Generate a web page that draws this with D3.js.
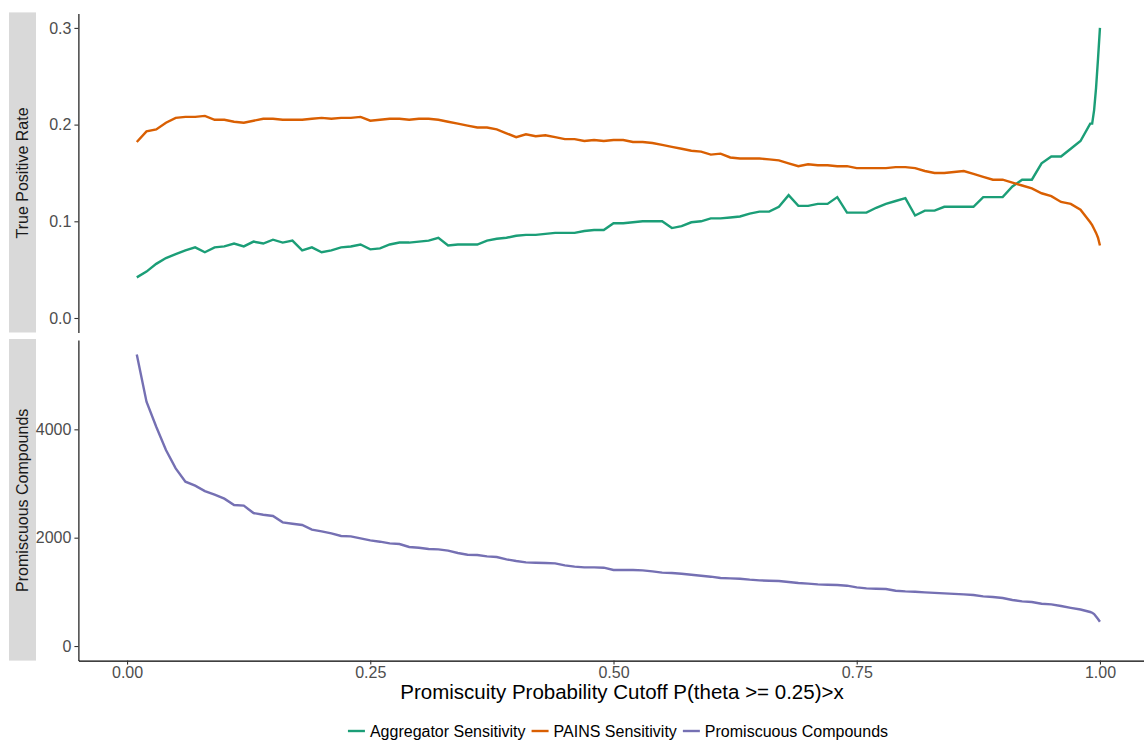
<!DOCTYPE html>
<html>
<head>
<meta charset="utf-8">
<script src="https://d3js.org/d3.v7.min.js"></script>
<style>
body { margin: 0; background: #fff; }
text { font-family: "Liberation Sans", Arial, Helvetica, sans-serif; }
</style>
</head>
<body>
<div id="chart"></div>
<script>
// cutoff values on the x axis
var cutoff = [0.01, 0.02, 0.03, 0.04, 0.05, 0.06, 0.07, 0.08, 0.09, 0.10,
    0.11, 0.12, 0.13, 0.14, 0.15, 0.16, 0.17, 0.18, 0.19, 0.20,
    0.21, 0.22, 0.23, 0.24, 0.25, 0.26, 0.27, 0.28, 0.29, 0.30,
    0.31, 0.32, 0.33, 0.34, 0.35, 0.36, 0.37, 0.38, 0.39, 0.40,
    0.41, 0.42, 0.43, 0.44, 0.45, 0.46, 0.47, 0.48, 0.49, 0.50,
    0.51, 0.52, 0.53, 0.54, 0.55, 0.56, 0.57, 0.58, 0.59, 0.60,
    0.61, 0.62, 0.63, 0.64, 0.65, 0.66, 0.67, 0.68, 0.69, 0.70,
    0.71, 0.72, 0.73, 0.74, 0.75, 0.76, 0.77, 0.78, 0.79, 0.80,
    0.81, 0.82, 0.83, 0.84, 0.85, 0.86, 0.87, 0.88, 0.89, 0.90,
    0.91, 0.92, 0.93, 0.94, 0.95, 0.96, 0.97, 0.98, 0.99,
    0.992, 0.994, 0.996, 0.998, 1.00];

var aggregatorSens = [0.042, 0.048, 0.056, 0.062, 0.066, 0.070, 0.073, 0.068, 0.073, 0.074,
    0.077, 0.074, 0.079, 0.077, 0.081, 0.078, 0.080, 0.070, 0.073, 0.068,
    0.070, 0.073, 0.074, 0.076, 0.071, 0.072, 0.076, 0.078, 0.078, 0.079,
    0.080, 0.083, 0.075, 0.076, 0.076, 0.076, 0.080, 0.082, 0.083, 0.085,
    0.086, 0.086, 0.087, 0.088, 0.088, 0.088, 0.090, 0.091, 0.091, 0.098,
    0.098, 0.099, 0.100, 0.100, 0.100, 0.093, 0.095, 0.099, 0.100, 0.103,
    0.103, 0.104, 0.105, 0.108, 0.110, 0.110, 0.115, 0.127, 0.116, 0.116,
    0.118, 0.118, 0.125, 0.109, 0.109, 0.109, 0.114, 0.118, 0.121, 0.124,
    0.106, 0.111, 0.111, 0.115, 0.115, 0.115, 0.115, 0.125, 0.125, 0.125,
    0.136, 0.143, 0.143, 0.160, 0.167, 0.167, 0.175, 0.183, 0.201,
    0.201, 0.215, 0.238, 0.268, 0.300];

var painsSens = [0.182, 0.193, 0.195, 0.202, 0.207, 0.208, 0.208, 0.209, 0.205, 0.205,
    0.203, 0.202, 0.204, 0.206, 0.206, 0.205, 0.205, 0.205, 0.206, 0.207,
    0.206, 0.207, 0.207, 0.208, 0.204, 0.205, 0.206, 0.206, 0.205, 0.206,
    0.206, 0.205, 0.203, 0.201, 0.199, 0.197, 0.197, 0.195, 0.191, 0.187,
    0.190, 0.188, 0.189, 0.187, 0.185, 0.185, 0.183, 0.184, 0.183, 0.184,
    0.184, 0.182, 0.182, 0.181, 0.179, 0.177, 0.175, 0.173, 0.172, 0.169,
    0.170, 0.166, 0.165, 0.165, 0.165, 0.164, 0.163, 0.160, 0.157, 0.159,
    0.158, 0.158, 0.157, 0.157, 0.155, 0.155, 0.155, 0.155, 0.156, 0.156,
    0.155, 0.152, 0.150, 0.150, 0.151, 0.152, 0.149, 0.146, 0.143, 0.143,
    0.140, 0.137, 0.134, 0.129, 0.126, 0.120, 0.118, 0.112, 0.099,
    0.096, 0.092, 0.088, 0.083, 0.075];

var promiscuous = [5380, 4510, 4049, 3618, 3280, 3034, 2960, 2861, 2794, 2720,
    2603, 2591, 2455, 2424, 2400, 2283, 2258, 2234, 2148, 2117,
    2080, 2031, 2025, 1988, 1951, 1926, 1895, 1883, 1828, 1815,
    1791, 1785, 1760, 1717, 1686, 1680, 1655, 1643, 1600, 1569,
    1545, 1538, 1532, 1526, 1489, 1465, 1452, 1452, 1446, 1403,
    1403, 1403, 1397, 1378, 1354, 1348, 1335, 1317, 1298, 1280,
    1255, 1249, 1243, 1225, 1212, 1206, 1200, 1181, 1163, 1151,
    1138, 1132, 1126, 1114, 1083, 1065, 1058, 1052, 1021, 1009,
    1002, 991, 981, 972, 963, 954, 941, 917, 905, 886,
    849, 825, 812, 781, 769, 738, 705, 674, 628,
    615, 590, 545, 500, 449];

var seriesNames = ["Aggregator Sensitivity", "PAINS Sensitivity", "Promiscuous Compounds"];
var seriesColors = ["#1b9e77", "#d95f02", "#7570b3"];
var panelLabels = ["True Positive Rate", "Promiscuous Compounds"];
var xTicks = [0, 0.25, 0.5, 0.75, 1];
var topTicks = [0, 0.1, 0.2, 0.3];
var bottomTicks = [0, 2000, 4000];
var xTitle = "Promiscuity Probability Cutoff P(theta >= 0.25)>x";

var width = 1144, height = 740;
var left = 78.4, right = 1148.6;
var topPanel = [13.4, 332.5];
var bottomPanel = [340, 660.6];
var textSize = 16;

var svg = d3.select("#chart").append("svg")
    .attr("width", width)
    .attr("height", height);

function expand(ext) {
    var pad = (ext[1] - ext[0]) * 0.05;
    return [ext[0] - pad, ext[1] + pad];
}

var x = d3.scaleLinear().domain([-0.05, 1.05]).range([left, right]);
var yTop = d3.scaleLinear().domain(expand([0, 0.3])).range([topPanel[1], topPanel[0]]);
var yBottom = d3.scaleLinear().domain(expand([0, d3.max(promiscuous)])).range([bottomPanel[1], bottomPanel[0]]);

// strips on the left
var panels = [topPanel, bottomPanel];
panels.forEach(function (p, i) {
    svg.append("rect")
        .attr("x", 9).attr("y", p[0] - 1)
        .attr("width", 27).attr("height", p[1] - p[0] + 1)
        .attr("fill", "#d9d9d9");
    svg.append("text")
        .attr("transform", "translate(28," + ((p[0] + p[1]) / 2) + ") rotate(-90)")
        .attr("text-anchor", "middle")
        .attr("font-size", textSize)
        .attr("fill", "#1a1a1a")
        .text(panelLabels[i]);
});

function styleAxis(g) {
    g.selectAll(".domain").attr("stroke", "#000").attr("stroke-width", 1.1);
    g.selectAll(".tick line").attr("stroke", "#333").attr("stroke-width", 1.1);
    g.selectAll(".tick text").attr("fill", "#4d4d4d").attr("font-size", textSize)
        .attr("font-family", "Liberation Sans, Arial, sans-serif");
}

var gyTop = svg.append("g").attr("transform", "translate(" + left + ",0)")
    .call(d3.axisLeft(yTop).tickValues(topTicks).tickFormat(d3.format(".1f")).tickSize(4).tickSizeOuter(0).tickPadding(3));
styleAxis(gyTop);

var gyBottom = svg.append("g").attr("transform", "translate(" + left + ",0)")
    .call(d3.axisLeft(yBottom).tickValues(bottomTicks).tickFormat(d3.format("d")).tickSize(4).tickSizeOuter(0).tickPadding(3));
styleAxis(gyBottom);

var gx = svg.append("g").attr("transform", "translate(0," + bottomPanel[1] + ")")
    .call(d3.axisBottom(x).tickValues(xTicks).tickFormat(d3.format(".2f")).tickSize(4).tickSizeOuter(0).tickPadding(2));
styleAxis(gx);

// lines
var lineTop = d3.line()
    .x(function (d, i) { return x(cutoff[i]); })
    .y(function (d) { return yTop(d); });
var lineBottom = d3.line()
    .x(function (d, i) { return x(cutoff[i]); })
    .y(function (d) { return yBottom(d); });

svg.append("path").attr("d", lineTop(aggregatorSens))
    .attr("fill", "none").attr("stroke", seriesColors[0]).attr("stroke-width", 2.4);
svg.append("path").attr("d", lineTop(painsSens))
    .attr("fill", "none").attr("stroke", seriesColors[1]).attr("stroke-width", 2.4);
svg.append("path").attr("d", lineBottom(promiscuous))
    .attr("fill", "none").attr("stroke", seriesColors[2]).attr("stroke-width", 2.4);

// x title
svg.append("text")
    .attr("x", 622).attr("y", 699)
    .attr("text-anchor", "middle")
    .attr("font-size", 20.5)
    .attr("fill", "#000")
    .text(xTitle);

// legend
var legend = svg.append("g");
var cursor = 0;
seriesNames.forEach(function (name, i) {
    var item = legend.append("g").attr("transform", "translate(" + cursor + ",0)");
    item.append("line")
        .attr("x1", 0).attr("x2", 17).attr("y1", 0).attr("y2", 0)
        .attr("stroke", seriesColors[i]).attr("stroke-width", 2.4);
    var t = item.append("text")
        .attr("x", 22).attr("y", 5.5)
        .attr("font-size", textSize)
        .attr("fill", "#000")
        .text(name);
    cursor += 22 + t.node().getComputedTextLength() + 6;
});
legend.attr("transform", "translate(" + (618 - (cursor - 6) / 2) + ",731)");
</script>
</body>
</html>
